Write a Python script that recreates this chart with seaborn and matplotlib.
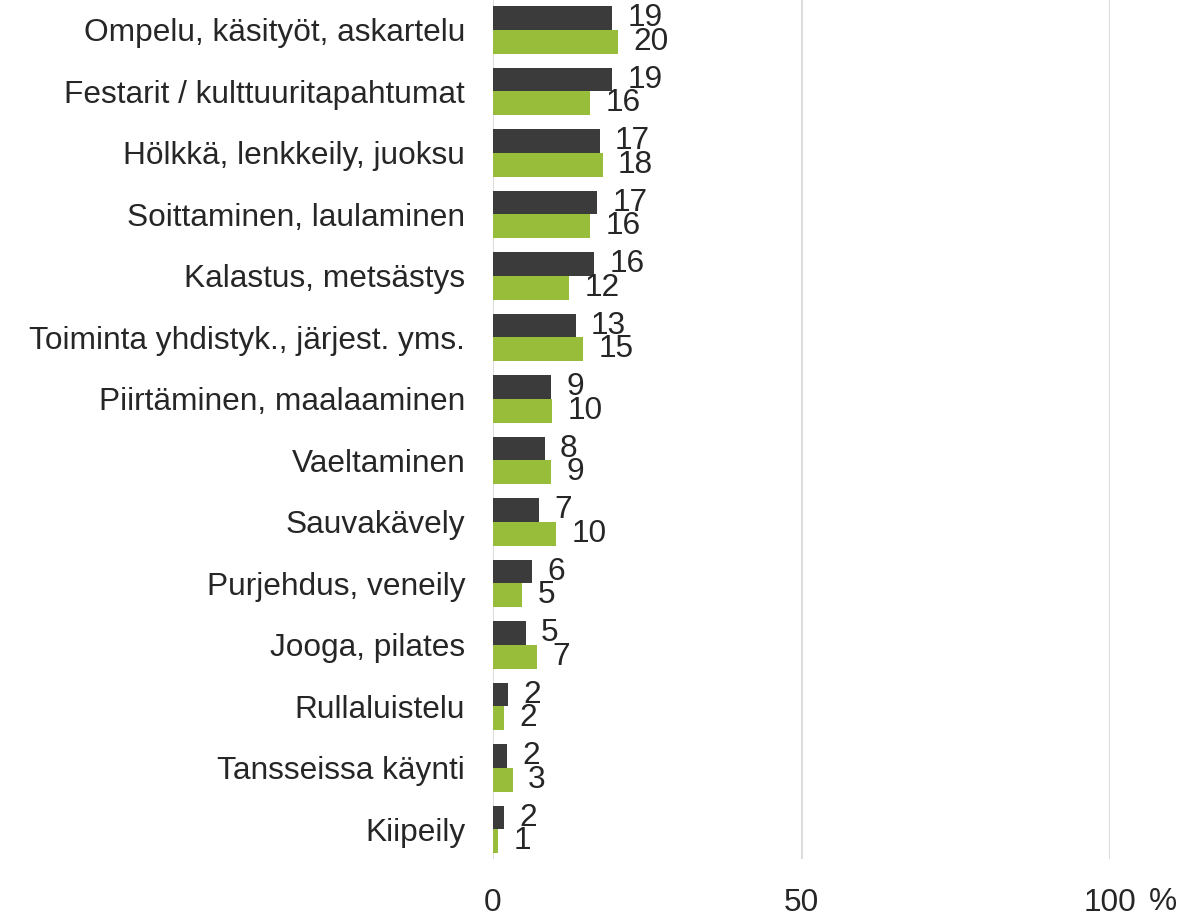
import matplotlib
matplotlib.use("Agg")
import matplotlib.pyplot as plt
import seaborn as sns
import pandas as pd

categories = [
    "Ompelu, käsityöt, askartelu",
    "Festarit / kulttuuritapahtumat",
    "Hölkkä, lenkkeily, juoksu",
    "Soittaminen, laulaminen",
    "Kalastus, metsästys",
    "Toiminta yhdistyk., järjest. yms.",
    "Piirtäminen, maalaaminen",
    "Vaeltaminen",
    "Sauvakävely",
    "Purjehdus, veneily",
    "Jooga, pilates",
    "Rullaluistelu",
    "Tansseissa käynti",
    "Kiipeily",
]
series_names = ["Sarja 1", "Sarja 2"]
series_1 = [19.3, 19.3, 17.3, 16.9, 16.4, 13.4, 9.4, 8.4, 7.4, 6.4, 5.3, 2.4, 2.3, 1.8]
series_2 = [20.3, 15.7, 17.8, 15.7, 12.3, 14.6, 9.6, 9.4, 10.2, 4.7, 7.1, 1.8, 3.2, 0.8]
labels_1 = ["19", "19", "17", "17", "16", "13", "9", "8", "7", "6", "5", "2", "2", "2"]
labels_2 = ["20", "16", "18", "16", "12", "15", "10", "9", "10", "5", "7", "2", "3", "1"]
x_ticks = [0, 50, 100]
x_ticklabels = ["0", "50", "100"]
unit_label = "%"

colors = ["#3b3b3b", "#97bd3b"]

df = pd.DataFrame({
    "category": categories * 2,
    "value": series_1 + series_2,
    "series": [series_names[0]] * len(categories) + [series_names[1]] * len(categories),
})

sns.set_theme(style="white")
plt.rcParams["font.family"] = ["Liberation Sans", "DejaVu Sans"]
text_color = "#262626"
fs = 22.8

fig = plt.figure(figsize=(12, 9.18), dpi=100)
ax = fig.add_axes([493 / 1200, 1 - 859 / 918, (1110 - 493) / 1200, 859 / 918])

sns.barplot(data=df, x="value", y="category", hue="series", order=categories,
            hue_order=series_names, palette=colors, orient="h", width=0.77,
            saturation=1, ax=ax, legend=False, edgecolor="none")

ax.set_xlim(0, 100)
ax.set_ylim(13.48, -0.486)
ax.set_xticks(x_ticks)
ax.set_xticklabels(x_ticklabels)
ax.set_xlabel("")
ax.set_ylabel("")
for s in ax.spines.values():
    s.set_visible(False)
ax.grid(axis="x", color="#d9d9d9", linewidth=1.3)
ax.grid(axis="y", visible=False)
ax.set_axisbelow(True)
ax.tick_params(axis="x", length=0, pad=21, labelsize=fs, labelcolor=text_color)
ax.tick_params(axis="y", length=0, pad=20, labelsize=fs, labelcolor=text_color)

for cont, labs in zip(ax.containers, [labels_1, labels_2]):
    ax.bar_label(cont, labels=labs, padding=11, fontsize=fs, color=text_color)

ax.text(108.6, -0.0594, unit_label, transform=ax.get_xaxis_transform(),
        ha="center", va="baseline", fontsize=fs, color=text_color, clip_on=False)

fig.savefig("out.png", dpi=100)
